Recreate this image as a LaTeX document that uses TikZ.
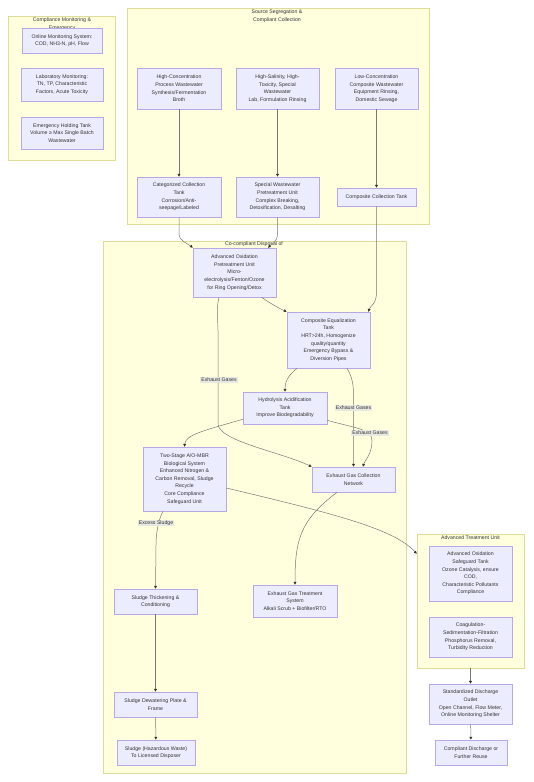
\documentclass[tikz,border=0pt]{standalone}
\usepackage{fontspec}
\setmainfont{Liberation Sans}
\usetikzlibrary{arrows.meta,calc}
\definecolor{nodefill}{HTML}{ECECFF}
\definecolor{nodeline}{HTML}{B8A8E8}
\definecolor{clusterfill}{HTML}{FFFFDE}
\definecolor{clusterline}{HTML}{DDDD99}
\definecolor{txt}{HTML}{333333}
\definecolor{edgecol}{HTML}{777777}
\definecolor{labfill}{HTML}{E8E8E2}
\tikzset{
  box/.style={draw=nodeline, fill=nodefill, line width=0.6pt, rectangle, inner sep=0pt,
    align=center, text=txt, font=\fontsize{5.2}{7.6}\selectfont},
  cluster/.style={draw=clusterline, fill=clusterfill, line width=0.6pt, rectangle, inner sep=0pt},
  ctitle/.style={align=center, text=txt, inner sep=0pt, font=\fontsize{5.2}{7.6}\selectfont},
  elabel/.style={fill=labfill, text=txt, inner sep=1pt, font=\fontsize{5.2}{6}\selectfont},
  conn/.style={draw=edgecol, line width=0.5pt, -{Triangle[length=2.8pt,width=2.8pt,color=txt]}}
}
\begin{document}
\begin{tikzpicture}[x=1pt,y=-1pt]
\useasboundingbox (0,0) rectangle (533,782);
\fill[white] (0,0) rectangle (533,782);

% clusters
\node[cluster, minimum width=107, minimum height=144.5] (c1) at (62,88.25) {};
\node[cluster, minimum width=302, minimum height=216] (c2) at (278,116) {};
\node[cluster, minimum width=303, minimum height=532] (c3) at (254.5,507) {};
\node[cluster, minimum width=107, minimum height=134] (c4) at (470.5,601) {};

\node[ctitle] (t1) at (62,24) {Compliance Monitoring \&\\Emergency};
\node[ctitle] (t2) at (277,16.3) {Source Segregation \&\\Compliant Collection};
\node[ctitle] (t3) at (254,244.5) {Co-compliant Disposal of};
\node[ctitle] (t4) at (470.5,538) {Advanced Treatment Unit};

% nodes
\node[box, minimum width=80, minimum height=25] (online) at (62,40.5) {Online Monitoring System:\\COD, NH3-N, pH, Flow};
\node[box, minimum width=82, minimum height=33] (lab) at (62,84.5) {Laboratory Monitoring:\\TN, TP, Characteristic\\Factors, Acute Toxicity};
\node[box, minimum width=82, minimum height=32] (emerg) at (62,133) {Emergency Holding Tank\\Volume ≥ Max Single Batch\\Wastewater};

\node[box, minimum width=84, minimum height=41] (hc) at (179,88.5) {High-Concentration\\Process Wastewater\\Synthesis/Fermentation\\Broth};
\node[box, minimum width=83, minimum height=41] (hs) at (277.5,88.5) {High-Salinity, High-\\Toxicity, Special\\Wastewater\\Lab, Formulation Rinsing};
\node[box, minimum width=83, minimum height=41] (lc) at (376.5,88.5) {Low-Concentration\\Composite Wastewater\\Equipment Rinsing,\\Domestic Sewage};
\node[box, minimum width=84, minimum height=40] (cat) at (179,197) {Categorized Collection\\Tank\\Corrosion/Anti-\\seepage/Labeled};
\node[box, minimum width=83, minimum height=40] (spec) at (277.5,197) {Special Wastewater\\Pretreatment Unit\\Complex Breaking,\\Detoxification, Desalting};
\node[box, minimum width=79, minimum height=18] (ctank) at (376.5,197) {Composite Collection Tank};

\node[box, minimum width=83, minimum height=49] (aop) at (234.5,272.5) {Advanced Oxidation\\Pretreatment Unit\\Micro-\\electrolysis/Fenton/Ozone\\for Ring Opening/Detox};
\node[box, minimum width=83, minimum height=56] (eq) at (328.5,340) {Composite Equalization\\Tank\\HRT>24h, Homogenize\\quality/quantity\\Emergency Bypass \&\\Diversion Pipes};
\node[box, minimum width=84, minimum height=32] (hyd) at (285,408) {Hydrolysis Acidification\\Tank\\Improve Biodegradability};
\node[box, minimum width=83, minimum height=64] (two) at (184.5,479) {Two-Stage A/O-MBR\\Biological System\\Enhanced Nitrogen \&\\Carbon Removal, Sludge\\Recycle\\Core Compliance\\Safeguard Unit};
\node[box, minimum width=83, minimum height=25] (egc) at (353.5,479.5) {Exhaust Gas Collection\\Network};
\node[box, minimum width=83, minimum height=25] (thick) at (155.5,601.5) {Sludge Thickening \&\\Conditioning};
\node[box, minimum width=84, minimum height=32] (egt) at (295,601) {Exhaust Gas Treatment\\System\\Alkali Scrub + Biofilter/RTO};
\node[box, minimum width=83, minimum height=25] (dew) at (155.5,704.5) {Sludge Dewatering Plate \&\\Frame};
\node[box, minimum width=78, minimum height=25] (haz) at (156,752.5) {Sludge (Hazardous Waste)\\To Licensed Disposer};

\node[box, minimum width=83, minimum height=55] (aos) at (470.5,573.5) {Advanced Oxidation\\Safeguard Tank\\Ozone Catalysis, ensure\\COD,\\Characteristic Pollutants\\Compliance};
\node[box, minimum width=83, minimum height=40] (coag) at (470.5,637) {Coagulation-\\Sedimentation-Filtration\\Phosphorus Removal,\\Turbidity Reduction};
\node[box, minimum width=83, minimum height=40] (std) at (470.5,704) {Standardized Discharge\\Outlet\\Open Channel, Flow Meter,\\Online Monitoring Shelter};
\node[box, minimum width=72, minimum height=25] (comp) at (471,752.5) {Compliant Discharge or\\Further Reuse};

% connectors
\draw[conn] (hc) -- (cat);
\draw[conn] (hs) -- (spec);
\draw[conn] (lc) -- (ctank);
\draw[conn] (cat.south) -- ++(0,16) .. controls ++(0,8) and ($(aop.north west)+(-6,-5)$) .. (aop.north west);
\draw[conn] (spec.south) -- ++(0,16) .. controls ++(0,8) and ($(aop.north)+(39,-5)$) .. ($(aop.north)+(33.5,0)$);
\draw[conn] (ctank.south) -- ++(0,86) .. controls ++(0,12) and ($(eq.north east)+(0,-6)$) .. ($(eq.north east)+(-2,0)$);
\draw[conn] ($(aop.south)+(27,0)$) .. controls ++(9,6) and ($(eq.north west)+(-9,-4)$) .. (eq.north west);
\draw[conn] ($(aop.south)+(-15.5,0)$) .. controls ++(-3,12) and ($(aop.south)+(-16.5,23)$) .. ($(aop.south)+(-16.5,33)$)
  -- ($(aop.south)+(-16.5,127)$) .. controls ++(2,17) and ($(egc.north west)+(-32,-15)$) .. (egc.north west);
\node[elabel] (l1) at (219,380) {Exhaust Gases};
\draw[conn] ($(eq.south)+(-31.5,0)$) .. controls ++(-10,8) and ($(hyd.north)+(0,-9)$) .. (hyd.north);
\draw[conn] ($(eq.south)+(18.5,0)$) .. controls ++(5,8) and ($(egc.north)+(0,-82)$) .. ($(egc.north)+(0,-72)$) -- (egc.north);
\node[elabel] (l2) at (353.5,408) {Exhaust Gases};
\draw[conn] ($(hyd.south east)+(0,-4)$) .. controls ++(28,8) and ($(egc.north)+(18.5,-38)$) .. ($(egc.north)+(18.5,-26)$)
  .. controls ++(0,14) and ($(egc.north)+(11,-6)$) .. ($(egc.north)+(9.5,0)$);
\node[elabel] (l3) at (370,433) {Exhaust Gases};
\draw[conn] ($(hyd.south west)+(0,-5)$) .. controls ++(-38,11) and ($(two.north)+(1,-12)$) .. (two.north);
\draw[conn] ($(two.east)+(0,9)$) .. controls ++(114,27) and ($(c4.north west)+(-22,-4)$) .. ($(c4.north west)+(0,20)$);
\draw[conn] ($(two.south)+(-21.5,0)$) .. controls ++(-5,9) and ($(thick.north)+(0.5,-54)$) .. ($(thick.north)+(0.5,-44)$) -- (thick.north);
\node[elabel] (l4) at (156,523) {Excess Sludge};
\draw[conn] ($(egc.south)+(-16.5,0)$) .. controls ++(-37,28) and ($(egt.north)+(0,-45)$) .. (egt.north);
\draw[conn] (thick) -- (dew);
\draw[conn] (dew) -- (haz);
\draw[conn] (c4.south) -- (std.north);
\draw[conn] (std) -- (comp);
\end{tikzpicture}
\end{document}
